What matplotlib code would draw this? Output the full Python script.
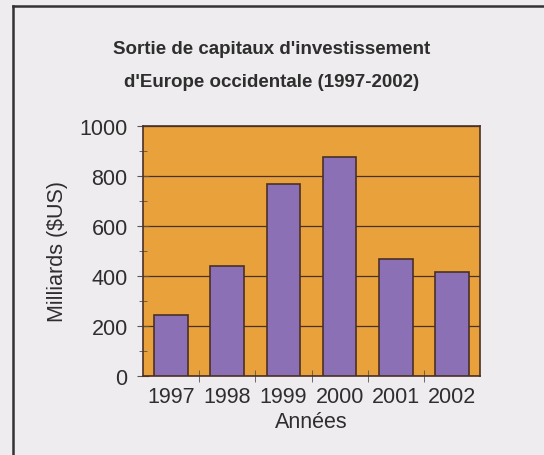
import numpy as np
import matplotlib
matplotlib.use("Agg")
import matplotlib.pyplot as plt
from matplotlib.lines import Line2D

# data
years = ["1997", "1998", "1999", "2000", "2001", "2002"]
outflows = [245, 440, 770, 875, 470, 415]  # milliards $US

title = "Sortie de capitaux d'investissement\nd'Europe occidentale (1997-2002)"
x_label = "Années"
y_label = "Milliards ($US)"

bg = "#efecef"
orange = "#e9a23b"
purple = "#8b70b5"
edge = "#4a3026"
text_col = "#2e2e2e"

plt.rcParams['font.family'] = ['Liberation Sans', 'DejaVu Sans']

fig = plt.figure(figsize=(5.44, 4.56), dpi=100, facecolor=bg)

# outer frame: only top and left edges fall inside the scanned area
fx, fy = 13 / 544, 1 - 7 / 456
fig.add_artist(Line2D([fx, 1.0], [fy, fy], transform=fig.transFigure,
                      color="#333333", linewidth=1.8))
fig.add_artist(Line2D([fx, fx], [0.0, fy], transform=fig.transFigure,
                      color="#333333", linewidth=1.8))

ax = fig.add_axes([143 / 544, 1 - 377 / 456, (480 - 143) / 544, (377 - 127) / 456])
ax.set_facecolor(orange)

x = np.arange(len(years))
ax.bar(x, outflows, width=0.6, color=purple, edgecolor=edge, linewidth=1.2, zorder=3)

ax.set_xlim(-0.5, len(years) - 0.5)
ax.set_ylim(0, 1000)

ax.set_yticks(np.arange(0, 1001, 200))
ax.set_yticks(np.arange(100, 1000, 200), minor=True)
ax.yaxis.grid(True, which="major", color=edge, linewidth=0.9, zorder=1)
ax.set_axisbelow(True)

ax.set_xticks(x)
ax.set_xticklabels(years)
ax.set_xticks(np.arange(0.5, len(years) - 0.5, 1), minor=True)

ax.tick_params(axis="x", which="major", length=0, pad=7, labelsize=15.5, labelcolor=text_col)
ax.tick_params(axis="x", which="minor", direction="inout", length=8, color="#555555")
ax.tick_params(axis="y", which="major", direction="inout", length=8, color="#555555",
               pad=7, labelsize=15.5, labelcolor=text_col)
ax.tick_params(axis="y", which="minor", direction="inout", length=6, color="#555555")

for s in ax.spines.values():
    s.set_color(edge)
    s.set_linewidth(1.2)

ax.set_xlabel(x_label, fontsize=15.5, color=text_col, labelpad=3)
ax.set_ylabel(y_label, fontsize=15.5, color=text_col, labelpad=8)

fig.text(0.5, 1 - 66 / 456, title, ha="center", va="center", fontsize=13.5,
         fontweight="bold", color=text_col, linespacing=2.3)

fig.savefig("out.png", dpi=100, facecolor=bg)
